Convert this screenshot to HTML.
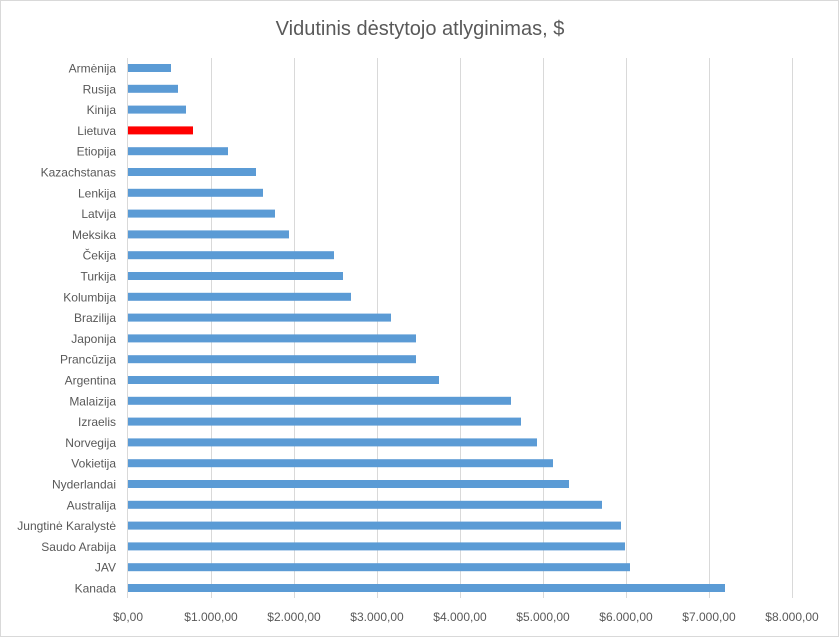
<!DOCTYPE html>
<html><head><meta charset="utf-8"><style>
html,body{margin:0;padding:0;background:#fff;}
</style></head><body>
<svg width="840" height="639" xmlns="http://www.w3.org/2000/svg" font-family="Liberation Sans, sans-serif">
<rect x="0.5" y="0.5" width="838" height="636" fill="#fff" stroke="#d9d9d9"/>
<text x="420" y="35" font-size="20" fill="#595959" text-anchor="middle">Vidutinis dėstytojo atlyginimas, $</text>
<g stroke="#d9d9d9" stroke-width="1">
<line x1="211.5" y1="58" x2="211.5" y2="598"/><line x1="294.5" y1="58" x2="294.5" y2="598"/>
<line x1="377.5" y1="58" x2="377.5" y2="598"/><line x1="460.5" y1="58" x2="460.5" y2="598"/>
<line x1="543.5" y1="58" x2="543.5" y2="598"/><line x1="626.5" y1="58" x2="626.5" y2="598"/>
<line x1="709.5" y1="58" x2="709.5" y2="598"/><line x1="792.5" y1="58" x2="792.5" y2="598"/>
<line x1="127.5" y1="58" x2="127.5" y2="598"/>
</g>
<g id="bars"></g>
<g font-size="12" fill="#595959" text-anchor="middle">
<text x="128" y="621">$0,00</text><text x="211" y="621">$1.000,00</text><text x="294" y="621">$2.000,00</text>
<text x="377" y="621">$3.000,00</text><text x="460" y="621">$4.000,00</text><text x="543" y="621">$5.000,00</text>
<text x="626" y="621">$6.000,00</text><text x="709" y="621">$7.000,00</text><text x="792" y="621">$8.000,00</text>
</g>
<g font-size="12" fill="#595959" text-anchor="end" id="labels"></g>
<script>
var d=[["Armėnija",171],["Rusija",178],["Kinija",186],["Lietuva",193],["Etiopija",228],["Kazachstanas",256],["Lenkija",263],["Latvija",275],["Meksika",289],["Čekija",334],["Turkija",343],["Kolumbija",351],["Brazilija",391],["Japonija",416],["Prancūzija",416],["Argentina",439],["Malaizija",511],["Izraelis",521],["Norvegija",537],["Vokietija",553],["Nyderlandai",569],["Australija",602],["Jungtinė Karalystė",621],["Saudo Arabija",625],["JAV",630],["Kanada",725]];
var ns="http://www.w3.org/2000/svg",b=document.getElementById("bars"),l=document.getElementById("labels");
d.forEach(function(r,i){var y=68+i*20.8;
var e=document.createElementNS(ns,"rect");e.setAttribute("x",128);e.setAttribute("y",y-4);e.setAttribute("width",r[1]-128);e.setAttribute("height",8);e.setAttribute("fill",r[0]=="Lietuva"?"#ff0000":"#5b9bd5");b.appendChild(e);
var t=document.createElementNS(ns,"text");t.setAttribute("x",116);t.setAttribute("y",y+4.5);t.textContent=r[0];l.appendChild(t);});
</script>
</svg>
</body></html>
